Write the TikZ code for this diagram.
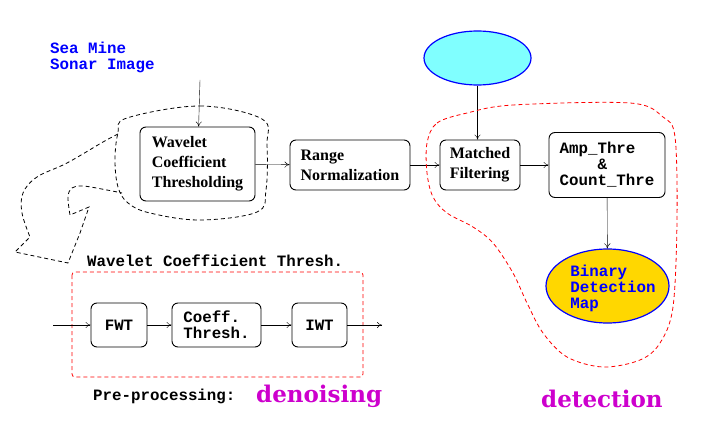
\documentclass[tikz,border=0pt]{standalone}
\usepackage{fontspec}
\setmainfont{Liberation Serif}
\newfontfamily\figmono{Liberation Mono}
\newfontfamily\figbig{DejaVu Serif}
\usepackage{tikz}
\usetikzlibrary{arrows.meta,shapes.geometric}
\tikzset{>={To[length=5pt,width=6pt]}}
\usepackage{xcolor}
\definecolor{figmagenta}{RGB}{205,0,205}
\definecolor{figcyan}{RGB}{128,255,255}
\definecolor{figgold}{RGB}{255,215,0}
\tikzstyle{block}=[draw,line width=0.9pt,rounded corners=6pt,inner sep=0pt,align=left,font=\bfseries\fontsize{16}{20}\selectfont]
\tikzstyle{mono}=[font=\figmono\bfseries\fontsize{15.8}{16}\selectfont,align=left,inner sep=0pt]
\tikzstyle{monoblock}=[block,font=\figmono\bfseries\fontsize{15.8}{16}\selectfont]
\tikzstyle{oval}=[ellipse,draw=blue,line width=1.2pt,inner sep=0pt]
\tikzstyle{fence}=[dash pattern=on 4pt off 3pt,line width=0.8pt]
\tikzstyle{biglabel}=[font=\figbig\bfseries\fontsize{23}{25}\selectfont,text=figmagenta,anchor=base west,inner sep=0pt]

\begin{document}
\begin{tikzpicture}[x=1pt,y=-1pt]
	\useasboundingbox (0,0) rectangle (727,425);
	
	% main chain
	\node[mono,text=blue,anchor=west] at (50,57) (sonar) {Sea Mine\\Sonar Image};
	\coordinate (in) at (200,80);
	\node[block,minimum width=115,minimum height=74] at (197.5,164) (wav) {Wavelet\\Coefficient\\Thresholding};
	\node[block,minimum width=120,minimum height=50] at (350,165) (range) {Range\\Normalization};
	\node[block,minimum width=80,minimum height=50] at (480,165) (match) {Matched\\Filtering};
	\node[monoblock,minimum width=116,minimum height=65] at (607,165) (amp) {Amp\_Thre\\\phantom{Amp\_}\&\\Count\_Thre};
	\node[oval,fill=figcyan,minimum width=107,minimum height=54] at (477.5,58) (templ) {};
	\node[oval,fill=figgold,minimum width=123,minimum height=74] at (607.5,286) (binmap) {};
	\node[mono,text=blue] at (613,288) (bintext) {Binary\\Detection\\Map};
	
	\draw[->] (in) -- (wav);
	\draw[->] (wav) -- (range);
	\draw[->] (range) -- (match);
	\draw[->] (match) -- (amp);
	\draw[->] (templ.south) -- (templ.south |- match.north);
	\draw[->] (amp) -- (binmap);
	
	% dashed outlines
	\draw[fence] plot[smooth cycle,tension=0.6] coordinates {(127,118) (200,106) (262,119) (267,145) (266,190) (257,212) (200,220) (150,213) (128,203) (118,187) (115,160) (118,133)};
	\draw[fence] plot[smooth,tension=0.6] coordinates {(118,134) (103,142) (67,163) (37,177) (23,193) (22,213) (30,237)}
		-- (15,252) -- (68,263) -- (80,233) -- (89,207)
		-- plot[smooth,tension=0.6] coordinates {(70,215) (68,197) (72,188) (83,186) (107,190) (122,193)};
	\draw[fence,red] plot[smooth cycle,tension=0.55] coordinates {(427,143) (437,123) (467,113) (513,105) (630,103) (663,117) (675,137) (677,220) (673,307) (660,343) (640,360) (603,367) (567,357) (543,333) (527,303) (513,273) (493,243) (473,227) (447,213) (433,197) (427,173)};
	
	% pre-processing
	\node[mono,anchor=base west] at (87,266) (wtitle) {Wavelet Coefficient Thresh.};
	\draw[fence,red,rounded corners=3pt] (72,272) rectangle (363,377);
	\coordinate (pin) at (53,325);
	\node[monoblock,minimum width=56,minimum height=44,align=center] at (119,325) (fwt) {FWT};
	\node[monoblock,minimum width=89,minimum height=44] at (216.5,325) (coeff) {Coeff.\\Thresh.};
	\node[monoblock,minimum width=55,minimum height=44,align=center] at (319.5,325) (iwt) {IWT};
	\coordinate (pout) at (382,325);
	\draw[->] (pin) -- (fwt);
	\draw[->] (fwt) -- (coeff);
	\draw[->] (coeff) -- (iwt);
	\draw[->] (iwt) -- (pout);
	
	\node[mono,anchor=base west] at (93,400) (pre) {Pre-processing:};
	\node[biglabel] at (256,402) (deno) {denoising};
	\node[biglabel] at (541,407) (detect) {detection};
\end{tikzpicture}
\end{document}
